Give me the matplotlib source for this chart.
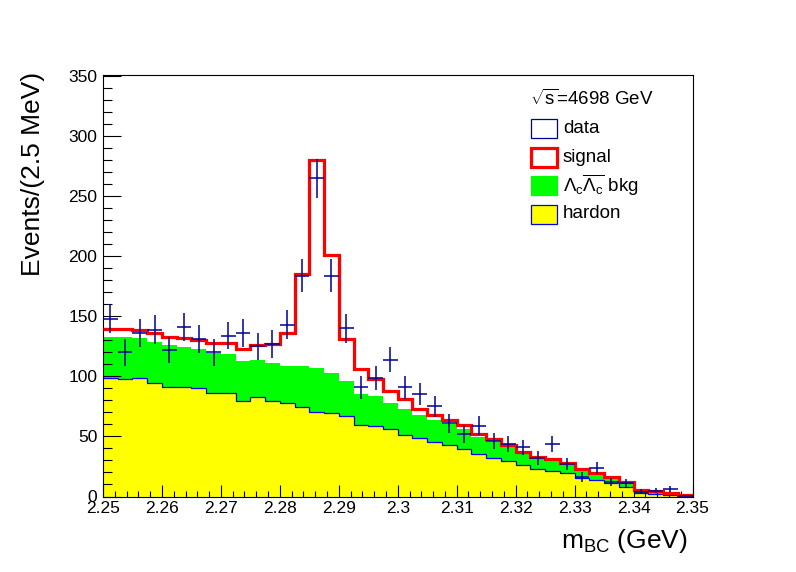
import numpy as np
import matplotlib
matplotlib.use('Agg')
import matplotlib.pyplot as plt
from matplotlib.patches import Rectangle
from matplotlib.ticker import MultipleLocator, FuncFormatter

plt.rcParams['font.family'] = ['Liberation Sans', 'DejaVu Sans']
plt.rcParams['mathtext.fontset'] = 'custom'
plt.rcParams['mathtext.rm'] = 'Liberation Sans'
plt.rcParams['mathtext.it'] = 'Liberation Sans:italic'
plt.rcParams['mathtext.bf'] = 'Liberation Sans:bold'

# m_BC binning: 2.25 - 2.35 GeV, 2.5 MeV per bin
edges = np.linspace(2.25, 2.35, 41)

# hadronic background (yellow)
hardon = [98.3, 97.5, 98.3, 94.7, 91.4, 91.4, 90.5, 85.8, 86.4, 79.7,
          82.5, 79.7, 78.0, 74.7, 70.6, 69.7, 67.2, 59.7, 58.3, 55.8,
          51.4, 48.9, 45.6, 43.0, 39.7, 35.6, 32.2, 29.7, 26.4, 23.0,
          21.4, 19.7, 15.5, 14.0, 11.2, 8.0, 3.2, 2.3, 1.2, 0.3]

# Lambda_c Lambda_c-bar background (green), stacked on hardon
lclc = [34.7, 35.5, 33.9, 33.9, 34.4, 33.3, 32.5, 33.9, 31.9, 33.1,
        30.8, 31.1, 30.6, 34.3, 36.1, 32.8, 28.6, 25.3, 25.0, 21.7,
        21.1, 18.6, 17.7, 17.5, 16.1, 13.6, 13.4, 11.4, 9.4, 9.2,
        8.9, 7.0, 6.0, 4.2, 3.3, 2.6, 1.1, 1.1, 0.8, 0.3]

# signal component, stacked on top (red line = total)
signal = [6.7, 6.7, 6.4, 7.2, 7.2, 7.5, 7.5, 7.8, 9.2, 9.7,
          12.5, 16.4, 27.2, 76.6, 173.3, 98.9, 35.0, 20.8, 14.2, 10.0,
          8.3, 5.7, 4.7, 3.4, 3.9, 3.0, 2.4, 1.9, 1.4, 0.8,
          1.1, 1.3, 1.0, 1.7, 1.4, 1.1, 0.7, 0.8, 0.7, 0.6]

data = [148, 120, 136, 139, 122, 141, 131, 120, 134, 136,
        125, 127, 143, 184, 265, 184, 140, 91, 99, 114,
        91, 85, 75, 61, 52, 59, 46, 44, 41, 32,
        44, 27, 16.5, 24, 12, 11.5, 4, 4.8, 6, 0.5]

hardon = np.array(hardon)
lclc = np.array(lclc)
signal = np.array(signal)
data = np.array(data, dtype=float)
bkg = hardon + lclc
total = bkg + signal
centers = 0.5 * (edges[1:] + edges[:-1])

W, H = 796, 572
fig = plt.figure(figsize=(W / 100, H / 100), dpi=100)
ax = fig.add_axes([103 / W, 1 - 496.5 / H, (692.5 - 103) / W, (496.5 - 75) / H])

ax.stairs(hardon, edges, fill=True, color='#ffff00', zorder=1)
ax.stairs(bkg, edges, baseline=hardon, fill=True, color='#00ff00', zorder=1)
ax.stairs(hardon, edges, baseline=None, color='#0000ff', lw=0.9, zorder=2)
ax.stairs(total, edges, baseline=None, color='#ff0000', lw=2.3, zorder=3)
ax.errorbar(centers, data, yerr=np.sqrt(data), xerr=0.00125, fmt='none',
            ecolor='#000099', elinewidth=1.1, capsize=0, zorder=4)

ax.set_xlim(2.25, 2.35)
ax.set_ylim(0, 351)
ax.xaxis.set_major_locator(MultipleLocator(0.01))
ax.xaxis.set_minor_locator(MultipleLocator(0.002))
ax.yaxis.set_major_locator(MultipleLocator(50))
ax.yaxis.set_minor_locator(MultipleLocator(10))
ax.xaxis.set_major_formatter(FuncFormatter(lambda v, p: f'{round(v, 4):g}'))
ax.tick_params(which='both', direction='in', top=False, right=False,
               labelsize=12.5, width=0.8)
ax.tick_params(axis='x', which='major', length=8.6, pad=3)
ax.tick_params(axis='x', which='minor', length=4.2)
ax.tick_params(axis='y', which='major', length=13, pad=4)
ax.tick_params(axis='y', which='minor', length=6.8)
for s in ax.spines.values():
    s.set_linewidth(0.8)

fig.text(33 / W, 1 - 72 / H, 'Events/(2.5 MeV)', rotation=90, ha='center',
         va='top', fontsize=19)
fig.text(688 / W, 1 - 548 / H, r'm$_{\rm BC}$ (GeV)', ha='right',
         va='baseline', fontsize=19)

# legend
fig.text(530 / W, 1 - 98.5 / H, r'$\sqrt{\rm s}$=4698 GeV', ha='left',
         va='center', fontsize=13.5)
legend_rows = [
    ('data', 128.5, dict(facecolor='white', edgecolor='#000099', lw=0.9)),
    ('signal', 157.5, dict(facecolor='white', edgecolor='#ff0000', lw=2.3)),
    (r'$\Lambda_{\rm c}\overline{\Lambda_{\rm c}}$ bkg', 185.5,
     dict(facecolor='#00ff00', edgecolor='#00ff00', lw=0.9)),
    ('hardon', 214, dict(facecolor='#ffff00', edgecolor='#0000ff', lw=0.9)),
]
for label, yc, style in legend_rows:
    box = Rectangle((531 / W, 1 - (yc + 9.5) / H), 26 / W, 19 / H,
                    transform=fig.transFigure, **style)
    fig.add_artist(box)
    fig.text(563 / W, 1 - yc / H, label, ha='left', va='center',
             fontsize=13.5)

fig.savefig('out.png', dpi=100)
